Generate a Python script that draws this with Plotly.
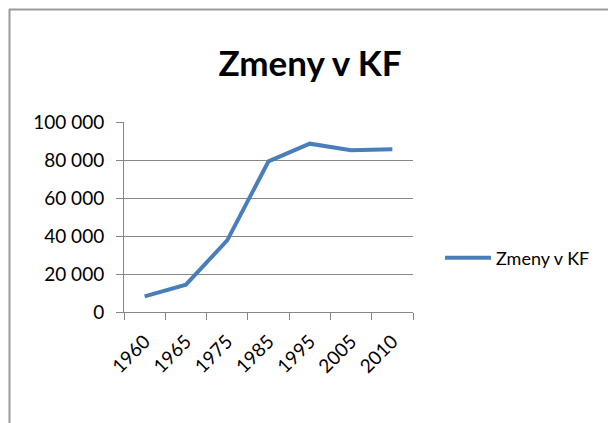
import plotly.graph_objects as go

years = ["1960", "1965", "1975", "1985", "1995", "2005", "2010"]
values = [8200, 14400, 37700, 79300, 88600, 85100, 85600]
series_name = "Zmeny v KF"
title_text = "Zmeny v KF"
y_ticks = [0, 20000, 40000, 60000, 80000, 100000]
y_tick_labels = ["0", "20 000", "40 000", "60 000", "80 000", "100 000"]

font_family = "Lato, 'Open Sans', sans-serif"

# page body has an 8px default margin, so the figure is offset by 8px
W, H = 608, 415
L, T = 116, 114
PW, PH = 289, 190


def px(xp):
    return (xp - 124) / PW


def py(yp):
    return (312 - yp) / PH


fig = go.Figure()
fig.add_trace(go.Scatter(
    x=years, y=values, mode="lines", name=series_name,
    line=dict(color="#4A7EBB", width=4),
))

frame = dict(color="#9A9A9A", width=2)
fig.update_layout(
    width=W, height=H,
    margin=dict(l=L, r=W - L - PW, t=T, b=H - T - PH, autoexpand=False),
    paper_bgcolor="white", plot_bgcolor="white",
    title=dict(text=title_text, x=(310 - 8) / W, xanchor="center",
               y=1 - (64 - 8) / H, yanchor="middle",
               font=dict(family=font_family, size=35, color="black", weight="bold")),
    showlegend=True,
    legend=dict(x=px(440), y=py(258), xanchor="left", yanchor="middle",
                font=dict(family=font_family, size=18, color="black"),
                bgcolor="rgba(0,0,0,0)", itemwidth=46),
    xaxis=dict(
        type="category", showgrid=False, showline=True, linecolor="#868686", linewidth=1,
        ticks="outside", ticklen=7, tickcolor="#868686", tickson="boundaries",
        tickangle=-45, tickfont=dict(family=font_family, size=19, color="black"),
        ticklabelstandoff=10,
        range=[-0.5, 6.5],
    ),
    yaxis=dict(
        range=[0, 100000], tickvals=y_ticks, ticktext=y_tick_labels,
        showgrid=True, gridcolor="#868686", gridwidth=1,
        showline=True, linecolor="#868686", linewidth=1,
        ticks="outside", ticklen=7, tickcolor="#868686",
        tickfont=dict(family=font_family, size=19, color="black"),
        ticklabelstandoff=8,
        zeroline=False,
    ),
    shapes=[
        dict(type="line", xref="paper", yref="paper",
             x0=px(9), x1=px(640), y0=py(9.5), y1=py(9.5), line=frame, layer="below"),
        dict(type="line", xref="paper", yref="paper",
             x0=px(9.5), x1=px(9.5), y0=py(9), y1=py(440), line=frame, layer="below"),
    ],
)

fig.write_html("out.html")
